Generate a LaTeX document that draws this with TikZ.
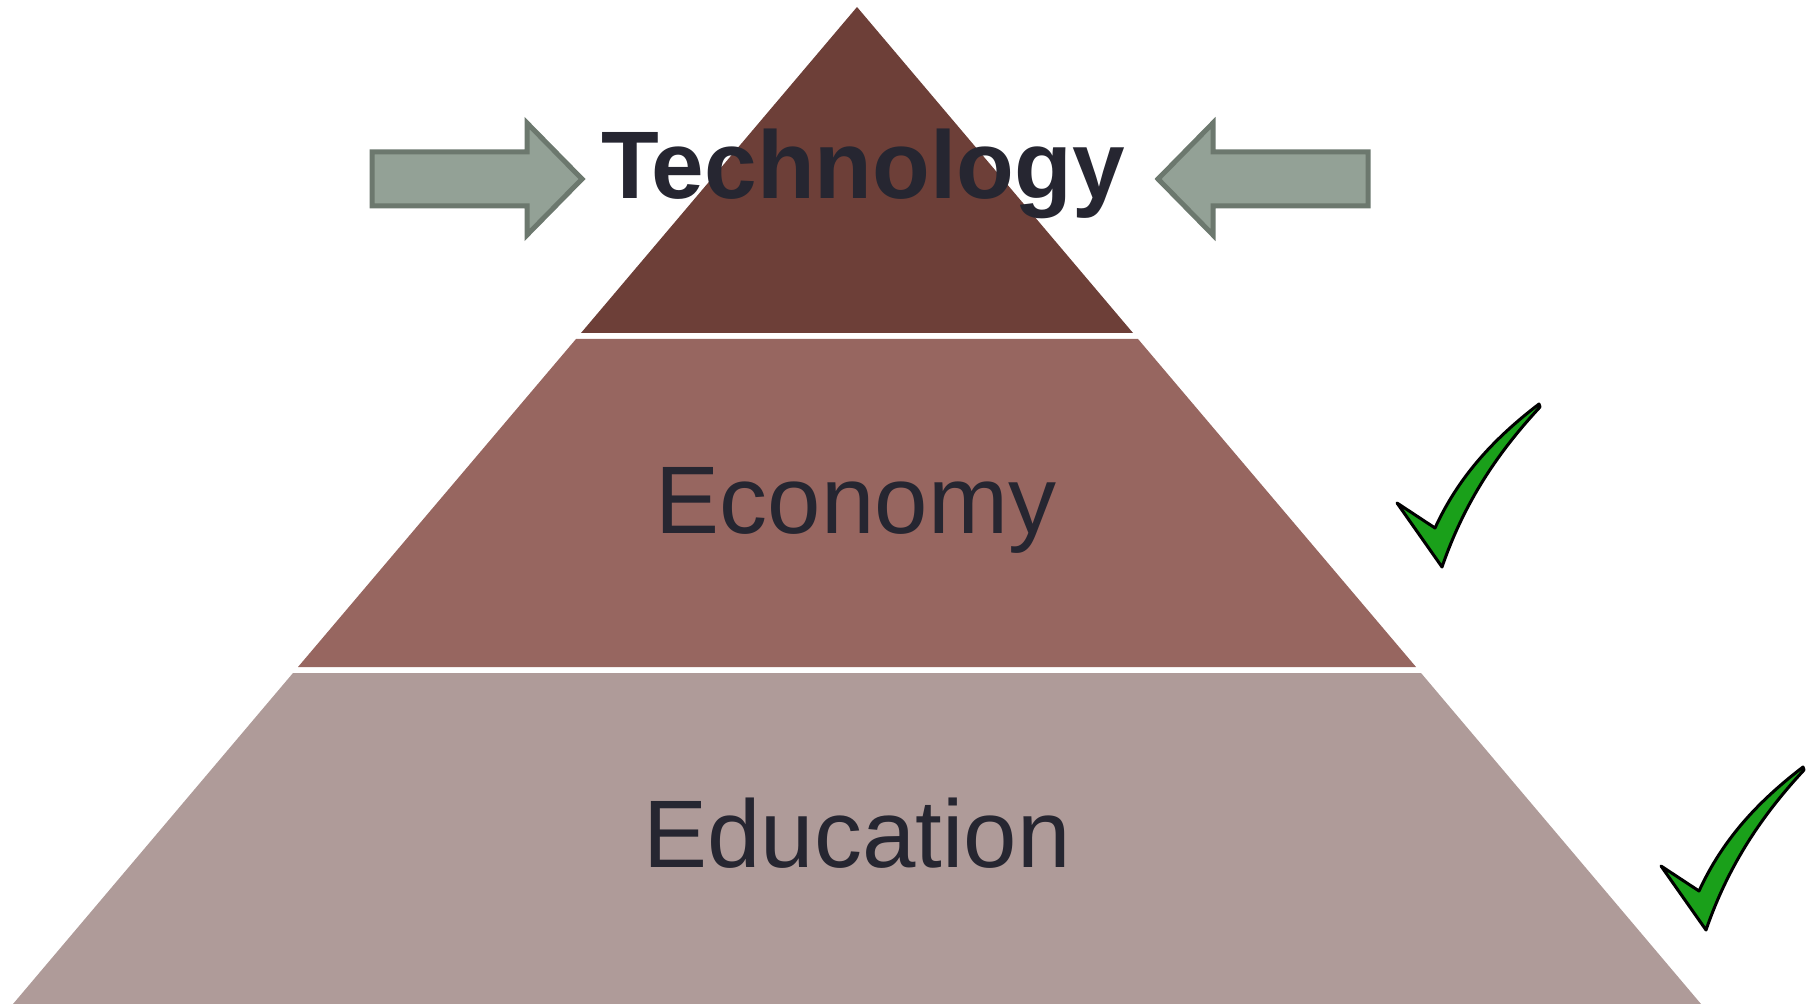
\documentclass[tikz,border=0pt]{standalone}
\usepackage{fontspec}
\setmainfont{Liberation Sans}
\usepackage{tikz}

\definecolor{topbrown}{HTML}{6D3F38}
\definecolor{midbrown}{HTML}{976660}
\definecolor{lowbrown}{HTML}{AF9B99}
\definecolor{arrowfill}{HTML}{93A196}
\definecolor{arrowline}{HTML}{6C786E}
\definecolor{tickgreen}{HTML}{1AA01A}
\definecolor{labeltext}{HTML}{262631}

\tikzset{
  layerlabel/.style={anchor=base, inner sep=0pt, text=labeltext,
    font=\fontsize{48}{58}\selectfont},
  pointer/.style={fill=arrowfill, draw=arrowline, line width=2.5pt, line join=miter},
  tickmark/.style={fill=tickgreen, draw=black, line width=1.5pt, line join=round}
}

\begin{document}
\begin{tikzpicture}[x=0.5pt,y=-0.5pt]
            \useasboundingbox (0,0) rectangle (1807,1004);

            \fill[topbrown] (581,333) -- (857,7) -- (1133,333) -- cycle;   % Top layer
            \fill[midbrown] (576,339) -- (1138,339) -- (1416,667) -- (298,667) -- cycle;
            \fill[lowbrown] (293,673) -- (1421,673) -- (1701,1004) -- (13,1004) -- cycle;

            \node[layerlabel, font=\fontsize{48}{58}\selectfont\bfseries, xscale=0.985] (technology) at (863,199) {Technology};
            \node[layerlabel] (economy) at (856,534) {Economy};
            \node[layerlabel] (education) at (857,867) {Education};

            % Arrows pointing at the top
            \draw[pointer] (372,152) -- (527,152) -- (527,123) -- (582,179)
                -- (527,235) -- (527,206) -- (372,206) -- cycle;
            \draw[pointer] (1368,152) -- (1213,152) -- (1213,123) -- (1158,179)
                -- (1213,235) -- (1213,206) -- (1368,206) -- cycle;

            % Ticks beside the two lower layers
            \foreach \dx/\dy in {0/0,264/363}{
                \draw[tickmark, shift={(\dx,\dy)}] (1397,503) -- (1435,528)
                    .. controls (1458,478) and (1492,440) .. (1539,404) -- (1540,407)
                    .. controls (1500,450) and (1465,500) .. (1442,567) -- cycle;
            }

        \end{tikzpicture}
\end{document}
